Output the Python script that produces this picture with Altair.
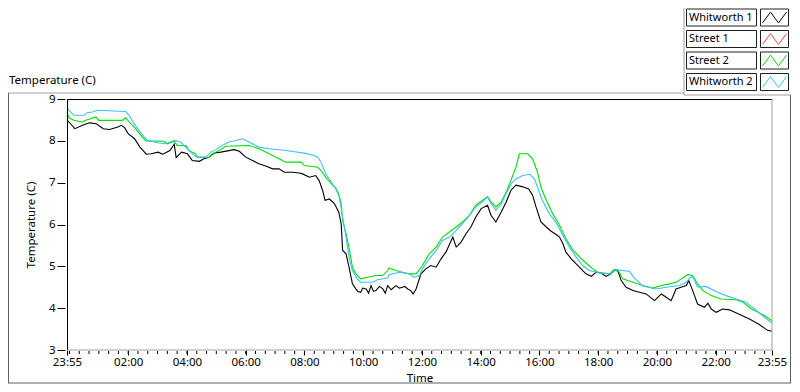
import altair as alt
import pandas as pd

# ---------------- data ----------------
series_names = ["Whitworth 1", "Street 1", "Street 2", "Whitworth 2"]
series_colors = ["#000000", "#ff4040", "#00e000", "#3fbfff"]

# minutes after the 23:55 start, temperature (C)
w1_min = [0, 4, 16, 33, 46, 60, 74, 87, 104, 111, 118, 125, 138, 149, 162, 172, 186, 196, 210, 219, 223,
          234, 246, 256, 270, 280, 290, 301, 314, 328, 341, 352, 365, 379, 392, 406, 420, 433, 444, 461,
          474, 481, 495, 508, 515, 522, 527, 536, 546, 555, 560, 563, 570, 576, 583, 590, 594, 600, 604,
          611, 616, 621, 626, 631, 638, 645, 650, 655, 662, 672, 679, 685, 690, 696, 702, 707, 713, 723,
          733, 743, 754, 764, 774, 788, 795, 805, 815, 825, 835, 846, 859, 866, 876, 887, 897, 907, 917,
          931, 943, 951, 958, 968, 979, 989, 999, 1006, 1013, 1019, 1030, 1040, 1050, 1060, 1071, 1081,
          1091, 1101, 1111, 1118, 1125, 1132, 1142, 1156, 1169, 1183, 1200, 1214, 1224, 1234, 1244, 1254,
          1265, 1270, 1278, 1288, 1302, 1309, 1316, 1326, 1339, 1353, 1374, 1394, 1414, 1431, 1440]
w1_temp = [8.50, 8.45, 8.29, 8.38, 8.43, 8.41, 8.29, 8.27, 8.33, 8.37, 8.31, 8.17, 8.05, 7.85, 7.68, 7.69,
           7.73, 7.68, 7.77, 7.92, 7.60, 7.73, 7.69, 7.53, 7.51, 7.57, 7.61, 7.71, 7.73, 7.76, 7.79, 7.75,
           7.61, 7.53, 7.45, 7.40, 7.33, 7.33, 7.25, 7.25, 7.23, 7.21, 7.13, 7.17, 7.05, 6.82, 6.58, 6.61,
           6.50, 6.30, 6.02, 5.38, 5.30, 4.98, 4.58, 4.46, 4.40, 4.38, 4.48, 4.46, 4.36, 4.54, 4.40, 4.42,
           4.52, 4.46, 4.36, 4.54, 4.44, 4.54, 4.48, 4.50, 4.52, 4.46, 4.42, 4.34, 4.46, 4.82, 4.94, 5.02,
           4.98, 5.18, 5.34, 5.70, 5.46, 5.58, 5.78, 5.94, 6.18, 6.38, 6.46, 6.22, 6.06, 6.30, 6.54, 6.82,
           6.94, 6.90, 6.85, 6.70, 6.42, 6.06, 5.94, 5.84, 5.76, 5.70, 5.54, 5.34, 5.18, 5.06, 4.94, 4.82,
           4.76, 4.86, 4.84, 4.76, 4.82, 4.92, 4.90, 4.66, 4.50, 4.42, 4.38, 4.34, 4.18, 4.34, 4.26, 4.18,
           4.46, 4.50, 4.54, 4.66, 4.42, 4.10, 4.02, 4.12, 3.98, 3.90, 3.98, 3.96, 3.85, 3.74, 3.61, 3.47,
           3.45]

s2_min = [0, 4, 14, 31, 38, 48, 59, 65, 113, 120, 127, 140, 154, 161, 198, 205, 219, 225, 243, 249, 263,
          266, 290, 297, 304, 317, 324, 372, 392, 413, 433, 447, 478, 485, 512, 519, 529, 539, 549, 555,
          560, 563, 570, 576, 583, 590, 600, 614, 631, 645, 655, 658, 672, 685, 699, 713, 726, 740, 754,
          767, 781, 795, 808, 822, 835, 849, 859, 866, 876, 887, 897, 907, 917, 924, 941, 951, 961, 968,
          979, 992, 1006, 1019, 1033, 1047, 1060, 1074, 1084, 1108, 1118, 1128, 1135, 1156, 1176, 1197,
          1214, 1231, 1244, 1255, 1268, 1278, 1288, 1299, 1316, 1336, 1367, 1381, 1398, 1412, 1425, 1440]
s2_temp = [8.69, 8.55, 8.49, 8.45, 8.49, 8.53, 8.57, 8.49, 8.49, 8.55, 8.45, 8.29, 8.09, 8.00, 7.99, 7.93,
           7.99, 7.89, 7.89, 7.77, 7.69, 7.61, 7.60, 7.69, 7.73, 7.81, 7.87, 7.89, 7.81, 7.69, 7.57, 7.49,
           7.49, 7.41, 7.37, 7.29, 7.12, 6.99, 6.87, 6.73, 6.50, 6.10, 5.78, 5.45, 4.98, 4.82, 4.70, 4.74,
           4.78, 4.78, 4.90, 4.96, 4.90, 4.86, 4.82, 4.82, 5.02, 5.30, 5.46, 5.70, 5.82, 5.94, 6.06, 6.22,
           6.46, 6.58, 6.67, 6.54, 6.42, 6.54, 6.78, 7.06, 7.37, 7.69, 7.69, 7.57, 7.25, 6.89, 6.58, 6.26,
           5.98, 5.66, 5.40, 5.22, 5.08, 4.94, 4.86, 4.82, 4.92, 4.86, 4.70, 4.62, 4.54, 4.48, 4.54, 4.58,
           4.62, 4.70, 4.80, 4.78, 4.58, 4.42, 4.30, 4.22, 4.20, 4.14, 3.98, 3.90, 3.82, 3.70]

w2_min = [0, 4, 14, 35, 41, 52, 62, 120, 127, 137, 147, 158, 164, 188, 202, 219, 232, 246, 256, 266, 284,
          294, 304, 317, 331, 345, 358, 372, 392, 413, 447, 488, 505, 512, 519, 529, 539, 549, 556, 563,
          570, 576, 583, 593, 600, 624, 634, 655, 658, 679, 699, 709, 720, 726, 740, 754, 767, 781, 795,
          808, 822, 835, 849, 859, 866, 876, 887, 897, 907, 917, 931, 945, 955, 961, 971, 985, 999, 1012,
          1026, 1040, 1053, 1067, 1088, 1111, 1122, 1135, 1149, 1159, 1176, 1203, 1224, 1251, 1265, 1272,
          1278, 1288, 1305, 1326, 1346, 1367, 1387, 1404, 1421, 1440]
w2_temp = [8.81, 8.73, 8.61, 8.61, 8.67, 8.69, 8.73, 8.70, 8.61, 8.41, 8.25, 8.09, 8.01, 7.95, 7.93, 8.01,
           7.97, 7.81, 7.69, 7.61, 7.61, 7.73, 7.79, 7.89, 7.97, 8.01, 8.05, 7.97, 7.85, 7.81, 7.77, 7.70,
           7.65, 7.61, 7.49, 7.20, 7.03, 6.85, 6.66, 6.18, 5.70, 5.22, 4.90, 4.70, 4.62, 4.62, 4.68, 4.72,
           4.80, 4.86, 4.82, 4.74, 4.78, 4.94, 5.18, 5.38, 5.62, 5.70, 5.86, 6.02, 6.22, 6.42, 6.54, 6.66,
           6.50, 6.34, 6.50, 6.74, 6.97, 7.09, 7.17, 7.20, 7.09, 6.89, 6.58, 6.26, 6.05, 5.76, 5.46, 5.22,
           5.02, 4.90, 4.84, 4.82, 4.92, 4.90, 4.88, 4.72, 4.53, 4.46, 4.50, 4.54, 4.62, 4.72, 4.76, 4.50,
           4.52, 4.40, 4.30, 4.22, 4.14, 3.98, 3.82, 3.64]

y_ticks = [3, 3.5, 4, 4.5, 5, 5.5, 6, 6.5, 7, 7.5, 8, 8.5, 9]
x_major = [0, 125, 245, 365, 485, 605, 725, 845, 965, 1085, 1205, 1325, 1440]  # 23:55, 02:00 ... 22:00, 23:55

# ---------------- layout ----------------
W, H = 705, 251
TOP = 91
FONT = "Noto Sans"
FS = 11.5
LFS = 11
one = pd.DataFrame({"a": [0]})

frames = []
for name, mins, temps in [("Whitworth 1", w1_min, w1_temp),
                          ("Street 2", s2_min, s2_temp),
                          ("Whitworth 2", w2_min, w2_temp)]:
    frames.append(pd.DataFrame({"series": name, "minute": mins, "temp": temps}))

color_scale = alt.Scale(domain=series_names, range=series_colors)
x_scale = alt.Scale(domain=[0, 1440], nice=False, zero=False)
y_scale = alt.Scale(domain=[3, 9], nice=False, zero=False)

x_axis = alt.Axis(values=x_major, labelExpr="timeFormat(datetime(2000, 0, 1, 23, 55 + datum.value), '%H:%M')",
                  tickSize=5, tickColor="#000000", labelPadding=1, labelFont=FONT, labelFontSize=FS,
                  labelColor="#000000", labelFlush=False, labelOverlap=False, domain=False, grid=False,
                  title="Time", titleFont=FONT, titleFontSize=FS, titleFontWeight="normal",
                  titleColor="#000000", titleY=28, titleBaseline="middle")
y_axis = alt.Axis(values=y_ticks, format="~g", tickSize=8, tickColor="#000000", offset=2, labelPadding=2,
                  labelFont=FONT, labelFontSize=FS, labelColor="#000000", domain=False, grid=False,
                  title="Temperature (C)", titleFont=FONT, titleFontSize=FS, titleFontWeight="normal",
                  titleColor="#000000", titleX=-34, titleY=H / 2, titleAngle=270, titleBaseline="middle",
                  titleAlign="center")

layers = []
for i, f in enumerate(frames):
    enc = dict(color=alt.Color("series:N", scale=color_scale, legend=None))
    if i == 0:
        enc["x"] = alt.X("minute:Q", scale=x_scale, axis=x_axis)
        enc["y"] = alt.Y("temp:Q", scale=y_scale, axis=y_axis)
    else:
        enc["x"] = alt.X("minute:Q", scale=x_scale)
        enc["y"] = alt.Y("temp:Q", scale=y_scale)
    layers.append(alt.Chart(f).mark_line(strokeWidth=1.1).encode(**enc))

# minor ticks every 20 minutes
minor = alt.Chart(alt.sequence(5, 1440, 20, as_="m")).mark_rule(color="#000000", strokeWidth=1).encode(
    x=alt.X("m:Q", scale=x_scale), y=alt.value(H + 1), y2=alt.value(H + 4))


def rule(x, x2, y, y2, color, sw=1):
    return alt.Chart(one).mark_rule(color=color, strokeWidth=sw).encode(
        x=alt.value(x), x2=alt.value(x2), y=alt.value(y), y2=alt.value(y2))


BOT = 383 - 8 - TOP  # bottom frame line, relative to plot top
deco = [
    # plot frame
    rule(0, W, 0.5, 0.5, "#000000"),
    rule(0.5, 0.5, 0, H, "#000000"),
    rule(W, W, 0, H, "#a0a0a0"),
    rule(0, W, H, H, "#a0a0a0"),
    # panel frame
    rule(-59, 617, -6, -6, "#a0a0a0"),
    rule(617, 617, -TOP, -4, "#a0a0a0"),
    rule(617, 724, -4, -4, "#a0a0a0"),
    rule(723.5, 723.5, -4, BOT, "#606060"),
    rule(-58.5, -58.5, -6, BOT, "#606060"),
    rule(-59, 724, BOT, BOT, "#606060"),
]

top_label = alt.Chart(one).mark_text(text="Temperature (C)", align="left", baseline="middle", font=FONT,
                                     fontSize=FS, color="#000000").encode(x=alt.value(-58), y=alt.value(-18))

leg_base = alt.Chart(pd.DataFrame({"series": series_names})).transform_window(
    idx="row_number()").transform_calculate(
    ytop="-90 + 21.5 * (datum.idx - 1)", ybot="-73 + 21.5 * (datum.idx - 1)", ymid="-81.5 + 21.5 * (datum.idx - 1)")

leg_box = leg_base.mark_rect(fill="white", stroke="#202020", strokeWidth=1).encode(
    x=alt.value(619.5), x2=alt.value(689.5), y=alt.Y("ytop:Q", scale=None), y2="ybot:Q")
leg_sw = leg_base.mark_rect(fill="white", stroke="#202020", strokeWidth=1).encode(
    x=alt.value(693.5), x2=alt.value(721.5), y=alt.Y("ytop:Q", scale=None), y2="ybot:Q")
leg_text = leg_base.mark_text(align="left", baseline="middle", font=FONT, fontSize=LFS, color="#000000").encode(
    x=alt.value(622), y=alt.Y("ymid:Q", scale=None), text="series:N")
zig = "M-1,0.45L-0.33,-0.45L0.33,0.45L1,-0.45"
leg_zig = leg_base.mark_point(shape=zig, filled=False, size=576, strokeWidth=1, opacity=1).encode(
    x=alt.value(707.5), y=alt.Y("ymid:Q", scale=None),
    color=alt.Color("series:N", scale=color_scale, legend=None))

chart = alt.layer(*layers, minor, *deco, top_label, leg_box, leg_sw, leg_text, leg_zig).properties(
    width=W, height=H,
    autosize=alt.AutoSizeParams(type="none"),
    padding={"left": 59, "top": TOP, "right": 20, "bottom": 376 - TOP - H},
    background="white",
).configure_view(stroke=None)

chart.save("out.html", embed_options={"renderer": "svg", "actions": False})
